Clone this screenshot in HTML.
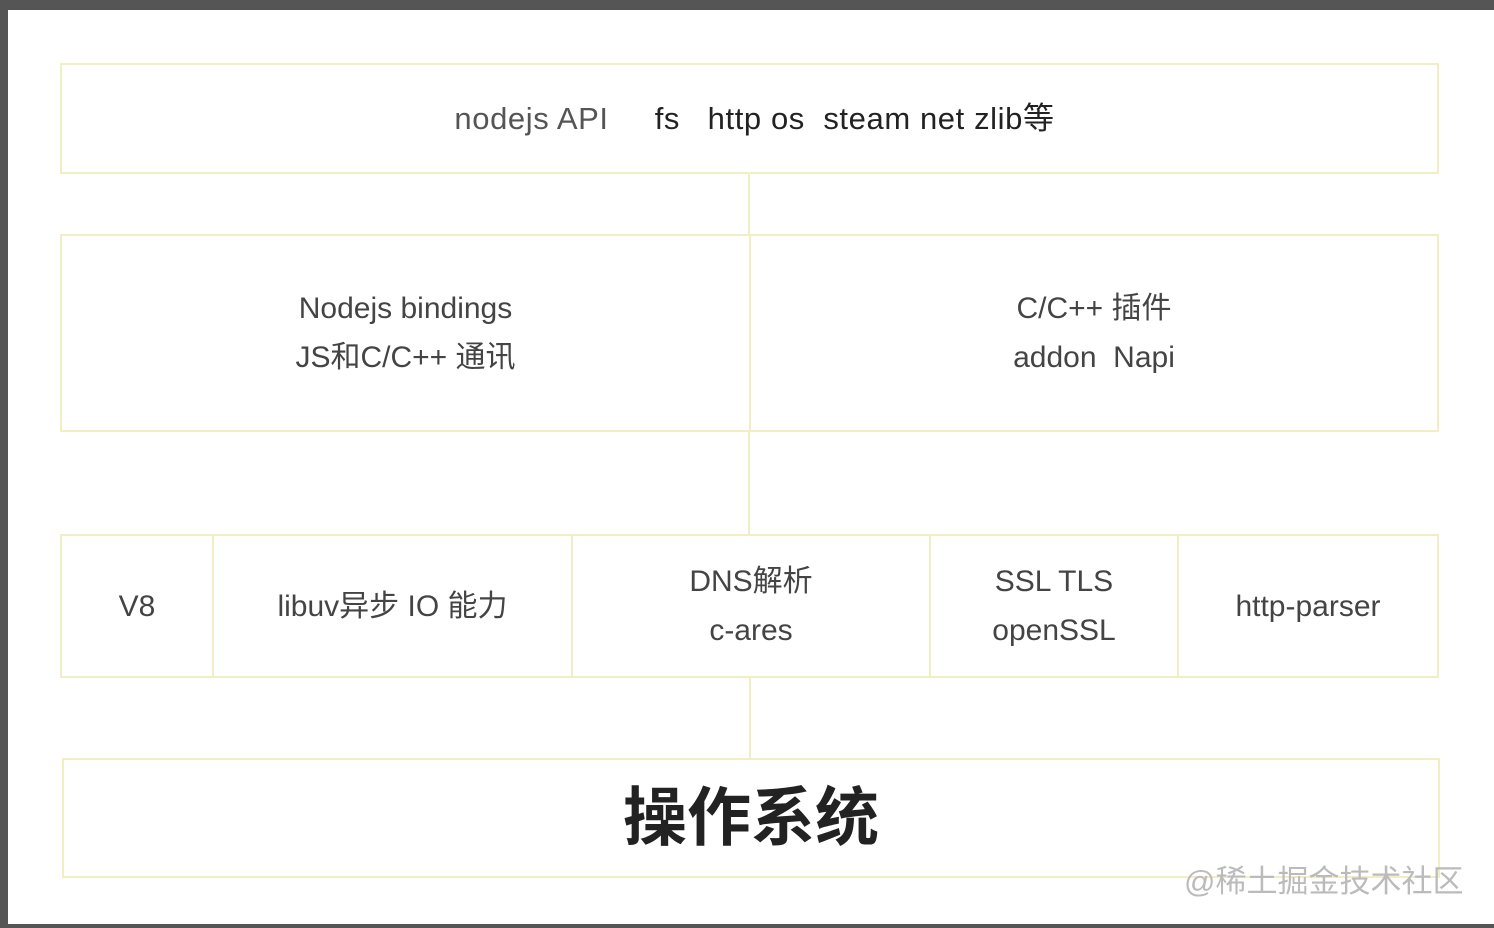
<!DOCTYPE html>
<html><head><meta charset="utf-8"><style>
body{margin:0;width:1494px;height:928px;background:#555;position:relative;overflow:hidden;font-family:"Liberation Sans","Noto Sans CJK SC",sans-serif;}
#pg{position:absolute;left:8px;top:10px;width:1486px;height:914px;background:#fff;}
.b{position:absolute;border:2px solid #f2eec4;box-sizing:border-box;display:flex;align-items:center;justify-content:center;text-align:center;color:#444;font-size:30px;line-height:49px;}
.l{position:absolute;background:#f2eec4;width:2px;}
</style></head><body>
<div id="pg"></div>
<div class="l" style="left:748px;top:173px;height:62px"></div>
<div class="l" style="left:748px;top:431px;height:104px"></div>
<div class="l" style="left:749px;top:677px;height:82px"></div>
<div class="b" style="left:60px;top:63px;width:1379px;height:111px;color:#222;font-size:31px;letter-spacing:0.6px"><span style="color:#555;margin-left:10px">nodejs API</span>&nbsp;&nbsp;&nbsp;&nbsp;&nbsp;fs&nbsp;&nbsp; http os&nbsp; steam net zlib等</div>
<div class="b" style="left:60px;top:234px;width:691px;height:198px">Nodejs bindings<br>JS和C/C++ 通讯</div>
<div class="b" style="left:749px;top:234px;width:690px;height:198px">C/C++ 插件<br>addon&nbsp; Napi</div>
<div class="b" style="left:60px;top:534px;width:154px;height:144px">V8</div>
<div class="b" style="left:212px;top:534px;width:361px;height:144px">libuv异步 IO 能力</div>
<div class="b" style="left:571px;top:534px;width:360px;height:144px">DNS解析<br>c-ares</div>
<div class="b" style="left:929px;top:534px;width:250px;height:144px">SSL TLS<br>openSSL</div>
<div class="b" style="left:1177px;top:534px;width:262px;height:144px">http-parser</div>
<div class="b" style="left:62px;top:758px;width:1378px;height:120px;font-size:64px;color:#222;font-weight:bold">操作系统</div>
<div style="position:absolute;left:1184px;top:856px;font-size:31px;color:#bbb">@稀土掘金技术社区</div>
</body></html>
